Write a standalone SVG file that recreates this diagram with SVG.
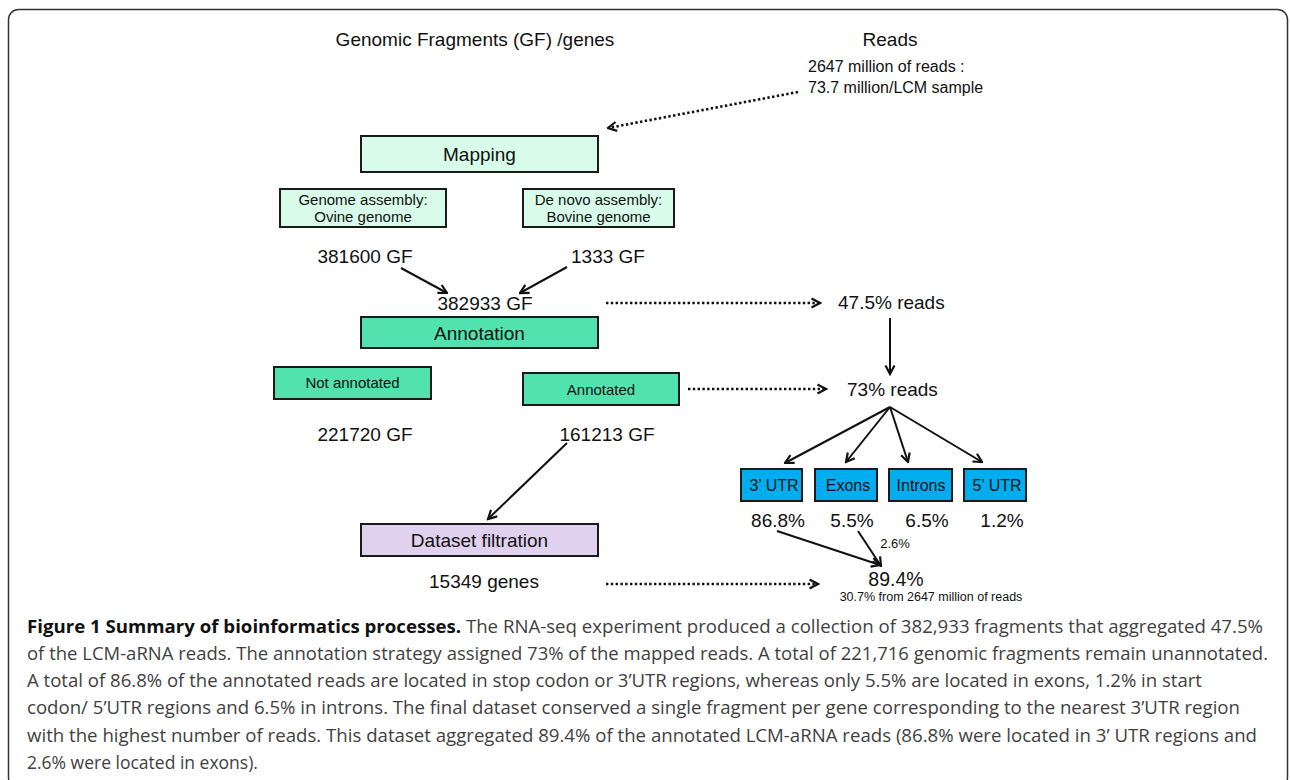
<svg xmlns="http://www.w3.org/2000/svg" width="1290" height="780" viewBox="0 0 1290 780">
<style>
.t{font-family:"Liberation Sans",Arial,sans-serif;fill:#111}
.c{text-anchor:middle}
.lbl{font-size:19px}
.sm{font-size:15px}
.box{stroke:#1a1a1a;stroke-width:2}
.mint{fill:#d9fcea}
.green{fill:#52e2b0}
.lav{fill:#e0d1ef}
.blue{fill:#00aeef}
.arr{stroke:#111;stroke-width:2;fill:none}
.dot{stroke:#111;stroke-width:2.6;stroke-dasharray:2.4 2.4;fill:none}
.cap{font-family:"Open Sans","Liberation Sans",sans-serif;font-size:17.5px;fill:#3f3f3f}
.capb{font-weight:bold;fill:#111}
</style>
<defs>
<marker id="ah" viewBox="0 0 12 12" refX="10.5" refY="6" markerWidth="12" markerHeight="12" markerUnits="userSpaceOnUse" orient="auto">
<path d="M2,1.5 L10.5,6 L2,10.5" fill="none" stroke="#111" stroke-width="2.2" stroke-linejoin="miter"/>
</marker>
</defs>
<rect x="8.5" y="9.5" width="1279" height="778" rx="10" fill="#fff" stroke="#333" stroke-width="1.5"/>

<g id="headers">
<text class="t c lbl" x="475" y="46">Genomic Fragments (GF) /genes</text>
<text class="t c lbl" x="890" y="46">Reads</text>
</g>
<g id="reads-total">
<text class="t" x="808" y="72" font-size="16">2647 million of reads :</text>
<text class="t" x="808" y="93" font-size="16">73.7 million/LCM sample</text>
</g>

<g id="mapping"><rect class="box mint" x="361" y="136" width="237" height="36"/><text class="t c lbl" x="479.5" y="161">Mapping</text></g>
<g id="genome-assembly"><rect class="box mint" x="280" y="189" width="166" height="38"/><text class="t c sm" x="363" y="205">Genome assembly:</text><text class="t c sm" x="363" y="222">Ovine genome</text></g>
<g id="denovo-assembly"><rect class="box mint" x="523" y="189" width="151" height="38"/><text class="t c sm" x="598.5" y="205">De novo assembly:</text><text class="t c sm" x="598.5" y="222">Bovine genome</text></g>
<g id="gf381600"><text class="t c lbl" x="365" y="263">381600 GF</text></g>
<g id="gf1333"><text class="t c lbl" x="608" y="263">1333 GF</text></g>
<g id="gf382933"><text class="t c lbl" x="485" y="310">382933 GF</text></g>
<g id="annotation"><rect class="box green" x="361" y="317" width="237" height="31"/><text class="t c lbl" x="479.5" y="340">Annotation</text></g>
<g id="reads475"><text class="t lbl" x="838" y="309">47.5% reads</text></g>
<g id="not-annotated"><rect class="box green" x="274" y="367" width="157" height="32"/><text class="t c sm" x="352.5" y="388">Not annotated</text></g>
<g id="annotated"><rect class="box green" x="523" y="373" width="156" height="32"/><text class="t c sm" x="601" y="395">Annotated</text></g>
<g id="reads73"><text class="t lbl" x="847" y="396">73% reads</text></g>
<g id="gf221720"><text class="t c lbl" x="365" y="441">221720 GF</text></g>
<g id="gf161213"><text class="t c lbl" x="607" y="441">161213 GF</text></g>
<g id="utr3"><rect class="box blue" x="741" y="469" width="61" height="32"/><text class="t c" font-size="16" x="774" y="491">3’ UTR</text></g>
<g id="exons"><rect class="box blue" x="815" y="469" width="62" height="32"/><text class="t c" font-size="16" x="848" y="491">Exons</text></g>
<g id="introns"><rect class="box blue" x="889" y="469" width="63" height="32"/><text class="t c" font-size="16" x="921" y="491">Introns</text></g>
<g id="utr5"><rect class="box blue" x="964" y="469" width="62" height="32"/><text class="t c" font-size="16" x="997" y="491">5’ UTR</text></g>
<g id="pct"><text class="t c lbl" x="778" y="527">86.8%</text><text class="t c lbl" x="852" y="527">5.5%</text><text class="t c lbl" x="927" y="527">6.5%</text><text class="t c lbl" x="1002" y="527">1.2%</text></g>
<g id="pct26"><text class="t c" font-size="13" x="895" y="548">2.6%</text></g>
<g id="dataset-filtration"><rect class="box lav" x="361" y="524" width="237" height="32"/><text class="t c lbl" x="479.5" y="547">Dataset filtration</text></g>
<g id="genes15349"><text class="t c lbl" x="484" y="588">15349 genes</text></g>
<g id="pct894"><text class="t c" font-size="19.5" x="896" y="586">89.4%</text><text class="t c" font-size="12.5" x="931" y="601">30.7% from 2647 million of reads</text></g>

<g id="connectors">
<line class="dot" x1="798" y1="92" x2="608" y2="128" marker-end="url(#ah)"/>
<line class="arr" x1="401" y1="268" x2="447" y2="293" marker-end="url(#ah)"/>
<line class="arr" x1="567" y1="267" x2="520" y2="293" marker-end="url(#ah)"/>
<line class="dot" x1="606" y1="303" x2="820" y2="303" marker-end="url(#ah)"/>
<line class="arr" x1="890" y1="318" x2="890" y2="374" marker-end="url(#ah)"/>
<line class="dot" x1="688" y1="389" x2="826" y2="389" marker-end="url(#ah)"/>
<line class="arr" x1="567" y1="443" x2="488" y2="519" marker-end="url(#ah)"/>
<line class="arr" x1="890" y1="407" x2="785" y2="463" marker-end="url(#ah)"/>
<line class="arr" x1="890" y1="407" x2="846" y2="462" marker-end="url(#ah)"/>
<line class="arr" x1="890" y1="407" x2="908" y2="462" marker-end="url(#ah)"/>
<line class="arr" x1="890" y1="407" x2="982" y2="462" marker-end="url(#ah)"/>
<line class="arr" x1="777" y1="531" x2="880" y2="565" marker-end="url(#ah)"/>
<line class="arr" x1="858" y1="531" x2="881" y2="566" marker-end="url(#ah)"/>
<line class="dot" x1="606" y1="584" x2="818" y2="584" marker-end="url(#ah)"/>
</g>

<g id="caption">
<text class="cap" x="27" y="633" textLength="1236" lengthAdjust="spacingAndGlyphs"><tspan class="capb">Figure 1 Summary of bioinformatics processes.</tspan> The RNA-seq experiment produced a collection of 382,933 fragments that aggregated 47.5%</text>
<text class="cap" x="27" y="660" textLength="1241" lengthAdjust="spacingAndGlyphs">of the LCM-aRNA reads. The annotation strategy assigned 73% of the mapped reads. A total of 221,716 genomic fragments remain unannotated.</text>
<text class="cap" x="27" y="687" textLength="1175" lengthAdjust="spacingAndGlyphs">A total of 86.8% of the annotated reads are located in stop codon or 3’UTR regions, whereas only 5.5% are located in exons, 1.2% in start</text>
<text class="cap" x="27" y="714" textLength="1213" lengthAdjust="spacingAndGlyphs">codon/ 5’UTR regions and 6.5% in introns. The final dataset conserved a single fragment per gene corresponding to the nearest 3’UTR region</text>
<text class="cap" x="27" y="742" textLength="1230" lengthAdjust="spacingAndGlyphs">with the highest number of reads. This dataset aggregated 89.4% of the annotated LCM-aRNA reads (86.8% were located in 3’ UTR regions and</text>
<text class="cap" x="27" y="769">2.6% were located in exons).</text>
</g>
</svg>
